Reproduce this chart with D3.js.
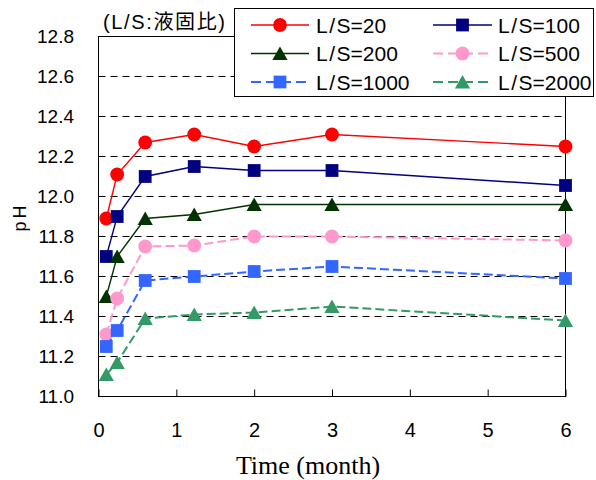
<!DOCTYPE html>
<html>
<head>
<meta charset="utf-8">
<script src="https://cdn.jsdelivr.net/npm/d3@7"></script>
<style>
  body { margin: 0; background: #fff; }
  svg { display: block; }
  text { font-family: Arial, "Liberation Sans", sans-serif; fill: #000; }
</style>
</head>
<body>
<div id="chart"></div>
<script>
// data
const months = [0.1, 0.24, 0.6, 1.23, 2, 3, 6];
const ls20   = [11.89, 12.11, 12.27, 12.31, 12.25, 12.31, 12.25];
const ls100  = [11.70, 11.90, 12.10, 12.15, 12.13, 12.13, 12.055];
const ls200  = [11.50, 11.70, 11.89, 11.91, 11.96, 11.96, 11.96];
const ls500  = [11.31, 11.49, 11.75, 11.755, 11.80, 11.80, 11.78];
const ls1000 = [11.25, 11.33, 11.58, 11.60, 11.625, 11.65, 11.59];
const ls2000 = [11.11, 11.17, 11.39, 11.41, 11.42, 11.45, 11.38];
const seriesNames = ['20', '100', '200', '500', '1000', '2000'];
const xTicks = [0, 1, 2, 3, 4, 5, 6];
const yTicks = [11.0, 11.2, 11.4, 11.6, 11.8, 12.0, 12.2, 12.4, 12.6, 12.8];

const W = 596, H = 480;
const plot = { left: 98.5, right: 565.5, top: 36.5, bottom: 396.5 };

// styling per series
const styles = [
  { color: '#ff0000', shape: 'circle',   dash: null },
  { color: '#000080', shape: 'square',   dash: null },
  { color: '#003300', shape: 'triangle', dash: null },
  { color: '#ff99cc', shape: 'circle',   dash: '9,4' },
  { color: '#3366ff', shape: 'square',   dash: '9,4' },
  { color: '#339966', shape: 'triangle', dash: '9,4' }
];
const values = [ls20, ls100, ls200, ls500, ls1000, ls2000];

const svg = d3.select('#chart').append('svg')
  .attr('width', W).attr('height', H);

const x = d3.scaleLinear().domain([0, 6]).range([plot.left, plot.right]);
const y = d3.scaleLinear().domain([11.0, 12.8]).range([plot.bottom, plot.top]);

// gridlines
svg.append('g').selectAll('line')
  .data(yTicks.filter(v => v > 11.0 && v < 12.8))
  .enter().append('line')
  .attr('x1', plot.left).attr('x2', plot.right)
  .attr('y1', d => y(d)).attr('y2', d => y(d))
  .attr('stroke', '#000').attr('stroke-width', 1)
  .attr('stroke-dasharray', '7,5');

// x axis, ticks pointing inside
const xAxis = svg.append('g')
  .attr('transform', `translate(0,${plot.bottom})`)
  .call(d3.axisBottom(x).tickValues(xTicks).tickFormat(d3.format('d'))
    .tickSize(-7).tickSizeOuter(0));
xAxis.select('.domain').remove();
xAxis.selectAll('line').attr('stroke', '#000');
xAxis.selectAll('text')
  .attr('y', 40).attr('dy', null)
  .style('font-size', '20px')
  .style('font-family', 'Arial, "Liberation Sans", sans-serif');

// y axis
const yAxis = svg.append('g')
  .attr('transform', `translate(${plot.left},0)`)
  .call(d3.axisLeft(y).tickValues(yTicks).tickFormat(d3.format('.1f'))
    .tickSize(0).tickPadding(24.5));
yAxis.select('.domain').remove();
yAxis.selectAll('text')
  .style('font-size', '19px')
  .style('font-family', 'Arial, "Liberation Sans", sans-serif');

// plot frame
svg.append('rect')
  .attr('x', plot.left).attr('y', plot.top)
  .attr('width', plot.right - plot.left).attr('height', plot.bottom - plot.top)
  .attr('fill', 'none').attr('stroke', '#000').attr('stroke-width', 1);

// markers
function markerPath(shape) {
  if (shape === 'circle') return 'M-6.9,0A6.9,6.9 0 1,0 6.9,0A6.9,6.9 0 1,0 -6.9,0Z';
  if (shape === 'square') return 'M-6.4,-6.4H6.4V6.4H-6.4Z';
  return 'M0,-7L7.6,6.5L-7.6,6.5Z';
}

const line = d3.line().x(d => x(d[0])).y(d => y(d[1]));

values.forEach((vals, i) => {
  const st = styles[i];
  const pts = months.map((m, j) => [m, vals[j]]);
  const g = svg.append('g');
  g.append('path')
    .attr('d', line(pts))
    .attr('fill', 'none')
    .attr('stroke', st.color)
    .attr('stroke-width', st.dash ? 2 : 1.4)
    .attr('stroke-dasharray', st.dash);
  g.selectAll('path.mk')
    .data(pts).enter().append('path')
    .attr('class', 'mk')
    .attr('d', markerPath(st.shape))
    .attr('transform', d => `translate(${x(d[0])},${y(d[1])})`)
    .attr('fill', st.color);
});

// legend
const lg = svg.append('g');
lg.append('rect')
  .attr('x', 234.5).attr('y', 8.5).attr('width', 359).attr('height', 88)
  .attr('fill', '#fff').attr('stroke', '#000').attr('stroke-width', 1);
const cols = [{ x1: 251, x2: 309, tx: 316 }, { x1: 433, x2: 492, tx: 498 }];
const rows = [25, 53.5, 82];
seriesNames.forEach((name, i) => {
  const st = styles[i];
  const c = cols[i % 2], r = rows[Math.floor(i / 2)];
  lg.append('line')
    .attr('x1', c.x1).attr('x2', c.x2).attr('y1', r).attr('y2', r)
    .attr('stroke', st.color)
    .attr('stroke-width', st.dash ? 2 : 1.4)
    .attr('stroke-dasharray', st.dash ? '10,5' : null);
  lg.append('path')
    .attr('d', markerPath(st.shape))
    .attr('transform', `translate(${(c.x1 + c.x2) / 2},${r})`)
    .attr('fill', st.color);
  const t = lg.append('text')
    .attr('x', c.tx).attr('y', r + 7.5)
    .style('font-size', '21px');
  t.append('tspan').text('L');
  t.append('tspan').attr('dx', 1.5).text('/');
  t.append('tspan').attr('dx', 1.5).text('S=' + name);
});

// title note
svg.append('text')
  .attr('x', 103).attr('y', 29)
  .attr('textLength', 122).attr('lengthAdjust', 'spacing')
  .style('font-size', '20px')
  .style('font-family', 'Arial, "Liberation Sans", "Noto Sans CJK JP", sans-serif')
  .text('(L/S:液固比)');

// axis titles
svg.append('text')
  .attr('transform', 'translate(26,217) rotate(-90)')
  .attr('text-anchor', 'middle')
  .style('font-size', '18px')
  .style('letter-spacing', '3px')
  .text('pH');

svg.append('text')
  .attr('x', 308).attr('y', 474)
  .attr('text-anchor', 'middle')
  .style('font-family', '"Times New Roman", "Liberation Serif", serif')
  .style('font-size', '26px')
  .text('Time (month)');
</script>
</body>
</html>
